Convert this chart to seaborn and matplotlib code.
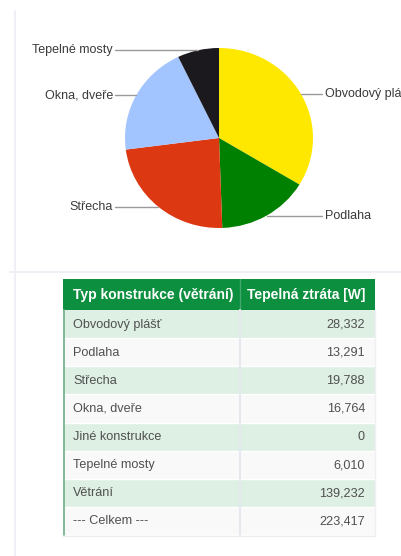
import numpy as np
import matplotlib
matplotlib.use("Agg")
import matplotlib.pyplot as plt
from matplotlib.patches import Rectangle
import seaborn as sns

# --- data -------------------------------------------------------------
categories = ["Obvodový plášť", "Podlaha", "Střecha", "Okna, dveře",
              "Jiné konstrukce", "Tepelné mosty", "Větrání"]
losses_w = [28332, 13291, 19788, 16764, 0, 6010, 139232]
pie_categories = ["Obvodový plášť", "Podlaha", "Střecha", "Okna, dveře",
                  "Jiné konstrukce", "Tepelné mosty"]
pie_colors = {"Obvodový plášť": "#ffe800", "Podlaha": "#008000",
              "Střecha": "#dc3912", "Okna, dveře": "#a2c4ff",
              "Jiné konstrukce": "#aaaaaa", "Tepelné mosty": "#1b191d"}
header = ["Typ konstrukce (větrání)", "Tepelná ztráta [W]"]
total_label = "--- Celkem ---"

sns.set_theme(style="white")
plt.rcParams["font.family"] = ["Liberation Sans", "DejaVu Sans"]

W, H = 401, 556
fig = plt.figure(figsize=(W / 100, H / 100), dpi=100)
canvas = fig.add_axes([0, 0, 1, 1])
canvas.set_xlim(0, W)
canvas.set_ylim(H, 0)
canvas.axis("off")

# card outlines
canvas.plot([15, 15], [11, H], color="#efeff5", lw=1.5, zorder=1)
canvas.plot([10, W], [272, 272], color="#efeff5", lw=1.5, zorder=1)

# --- pie --------------------------------------------------------------
value_of = dict(zip(categories, losses_w))
pie_labels = [c for c in pie_categories if value_of[c] > 0]
pie_values = [value_of[c] for c in pie_labels]

cx, cy, rx, ry = 219, 138, 94, 90
pax = fig.add_axes([(cx - rx) / W, 1 - (cy + ry) / H, 2 * rx / W, 2 * ry / H])
wedges, _ = pax.pie(pie_values, colors=[pie_colors[c] for c in pie_labels],
                    startangle=90, counterclock=False, radius=1,
                    wedgeprops=dict(linewidth=0))
pax.set_aspect("auto")
pax.set_xlim(-1, 1)
pax.set_ylim(-1, 1)
pax.axis("off")

for w, lab in zip(wedges, pie_labels):
    theta = np.deg2rad((w.theta1 + w.theta2) / 2)
    ex, ey = np.cos(theta), np.sin(theta)
    if ex >= 0:
        pax.plot([ex, 1.096], [ey, ey], color="#9a9a9a", lw=1, clip_on=False)
        pax.text(1.128, ey, lab, ha="left", va="center", fontsize=9.0,
                 color="#3a3a3a", clip_on=False)
    else:
        pax.plot([ex, -1.106], [ey, ey], color="#9a9a9a", lw=1, clip_on=False)
        pax.text(-1.128, ey, lab, ha="right", va="center", fontsize=9.0,
                 color="#3a3a3a", clip_on=False)

# --- table ------------------------------------------------------------
x0, xdiv, x1 = 63, 240, 375
head_top, head_bot = 279, 310
rows = list(zip(categories, losses_w)) + [(total_label, sum(losses_w))]
row_h = (535 - head_bot) / len(rows)

green = "#0c8f3f"
canvas.add_patch(Rectangle((x0, head_top), x1 - x0, head_bot - head_top,
                           facecolor=green, edgecolor="none", zorder=2))
canvas.plot([xdiv, xdiv], [head_top, head_bot], color="#3fa86a", lw=1, zorder=3)
canvas.text(x0 + 10, (head_top + head_bot) / 2 + 0.5, header[0], ha="left",
            va="center", fontsize=10, fontweight="bold", color="white", zorder=4)
canvas.text(x1 - 10, (head_top + head_bot) / 2 + 0.5, header[1], ha="right",
            va="center", fontsize=10, fontweight="bold", color="white", zorder=4)

for i, (name, val) in enumerate(rows):
    top = head_bot + i * row_h
    fc = "#deefe4" if i % 2 == 0 else "#f9f9fa"
    canvas.add_patch(Rectangle((x0, top), x1 - x0, row_h, facecolor=fc,
                               edgecolor="none", zorder=2))
    if i > 0:
        canvas.plot([x0, x1], [top, top], color="#ffffff", lw=1, zorder=3)
    mid = top + row_h / 2 + 0.5
    canvas.text(x0 + 10, mid, name, ha="left", va="center", fontsize=9.1,
                color="#505050", zorder=4)
    canvas.text(x1 - 10, mid, f"{val:,}", ha="right", va="center", fontsize=9.1,
                color="#505050", zorder=4)

canvas.plot([xdiv, xdiv], [head_bot, 535], color="#e7e7ee", lw=1.5, zorder=3)
canvas.plot([x0 + 0.5, x0 + 0.5], [head_bot, 535], color="#7ab38f", lw=1.3, zorder=3)
canvas.plot([x0, x1], [535.5, 535.5], color="#ededf2", lw=1, zorder=3)
canvas.plot([x1, x1], [head_bot, 535], color="#f0f0f4", lw=1, zorder=3)

fig.savefig("out.png", dpi=100)
